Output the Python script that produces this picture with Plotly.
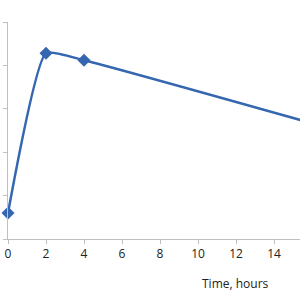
import plotly.graph_objects as go

time_hours = [0, 2, 4, 24]
values = [0.6, 4.28, 4.12, 1.68]
x_ticks = [0, 2, 4, 6, 8, 10, 12, 14]
x_title = "Time, hours"

fig = go.Figure()
fig.add_trace(go.Scatter(
    x=time_hours, y=values, mode="lines+markers",
    line=dict(color="#3566B0", width=2.5, shape="spline", smoothing=0.45),
    marker=dict(symbol="diamond", size=10, color="#3566B0"),
    cliponaxis=False, showlegend=False,
))
fig.update_layout(
    width=300, height=300,
    margin=dict(l=8, r=0, t=22, b=61),
    paper_bgcolor="white", plot_bgcolor="white",
    font=dict(family="Open Sans, Liberation Sans, sans-serif", size=12, color="#404040"),
    xaxis=dict(range=[0, 292 / 19], tickvals=x_ticks, showline=True, linecolor="#BFBFBF",
               linewidth=1, ticks="outside", ticklen=4, tickcolor="#BFBFBF",
               showgrid=False, zeroline=False, tickfont=dict(size=12, color="#222")),
    yaxis=dict(range=[0, 5], dtick=1, showline=True, linecolor="#BFBFBF", linewidth=1,
               ticks="outside", ticklen=4, tickcolor="#BFBFBF", showticklabels=False,
               showgrid=False, zeroline=False),
    annotations=[dict(text=x_title, xref="paper", yref="paper", x=(235 - 8) / 292,
                      y=(239 - 283) / 217, showarrow=False, xanchor="center", yanchor="middle",
                      font=dict(size=12, color="#222"))],
)
fig.write_html("out.html")
